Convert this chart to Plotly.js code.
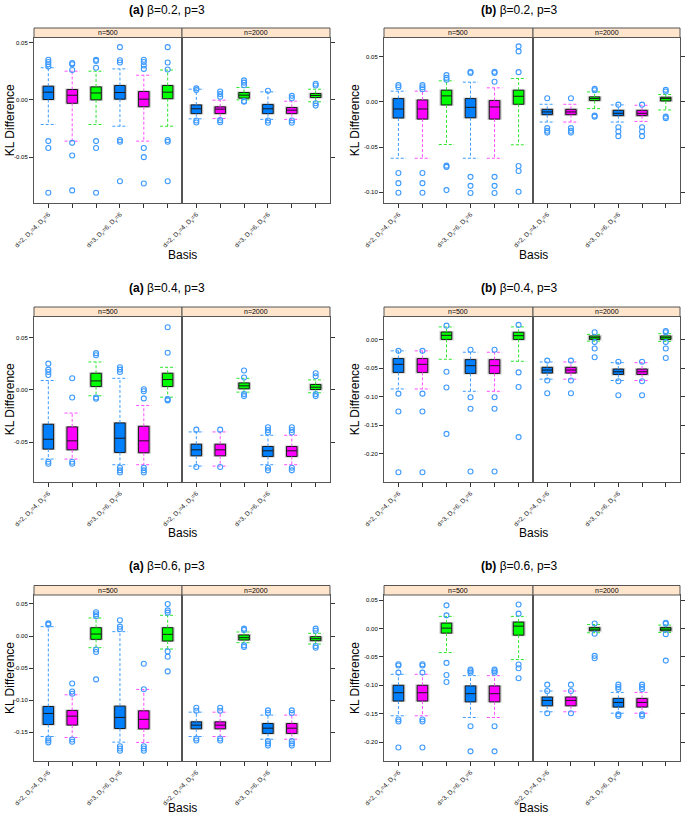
<!DOCTYPE html>
<html>
<head>
<meta charset="utf-8">
<script src="https://cdn.plot.ly/plotly-3.0.1.min.js"></script>
<style>
  body { margin: 0; background: #fff; }
  #chart { width: 685px; height: 816px; }
</style>
</head>
<body>
<div id="chart"></div>
<script>
// box order in every panel: n=500 positions 1..6, then n=2000 positions 1..6
var basisLabels = ['d=2, D<sub>x</sub>=4, D<sub>y</sub>=6', '', '', 'd=3, D<sub>x</sub>=6, D<sub>y</sub>=6', '', ''];
var strips = ['n=500', 'n=2000'];

// (a) beta=0.2
var q3_a02  = [0.0119, 0.009, 0.0113, 0.0125, 0.0073, 0.0125, -0.0044, -0.0061, 0.0064, -0.004, -0.0067, 0.0055];
var med_a02 = [0.0067, 0.004, 0.006, 0.0064, 0.0006, 0.0067, -0.0078, -0.0081, 0.0041, -0.0078, -0.009, 0.0038];
var q1_a02  = [0.0003, -0.003, 0, 0.0006, -0.006, 0.001, -0.012, -0.012, 0.0015, -0.012, -0.012, 0.002];
var hi_a02  = [0.028, 0.025, 0.025, 0.027, 0.0215, 0.026, 0.0093, -0.0003, 0.0108, 0.007, -0.0012, 0.0093];
var lo_a02  = [-0.0215, -0.036, -0.0215, -0.023, -0.036, -0.023, -0.0166, -0.0163, 0, -0.017, -0.017, -0.0017];
var out_a02 = [
  [0.035, 0.033, 0.031, 0.029, -0.036, -0.042, -0.081],
  [0.032, 0.031, 0.026, -0.0375, -0.0485, -0.079],
  [0.035, 0.034, 0.028, -0.036, -0.042, -0.081],
  [0.046, 0.0346, 0.0326, -0.035, -0.0366, -0.071],
  [0.035, 0.033, 0.030, 0.027, -0.042, -0.050, -0.073],
  [0.046, 0.0326, 0.0265, -0.035, -0.0366, -0.071],
  [0.010, 0.0085, -0.018, -0.0198],
  [0.0073, 0.005, 0.0026, -0.0177, -0.0195],
  [0.017, 0.015, 0.0128, -0.001, -0.0017],
  [0.008, -0.018, -0.020],
  [0.0035, 0.0015, -0.018, -0.020],
  [0.014, 0.0125, -0.003, -0.005]
];

// (b) beta=0.2
var q3_b02  = [0.0037, 0.0022, 0.013, 0.0037, 0.0015, 0.013, -0.0082, -0.0082, 0.0056, -0.0093, -0.0093, 0.0052];
var med_b02 = [-0.0078, -0.0078, 0.0067, -0.006, -0.0056, 0.0063, -0.0111, -0.0111, 0.0037, -0.0126, -0.0126, 0.0037];
var q1_b02  = [-0.0178, -0.019, -0.0033, -0.0175, -0.019, -0.0026, -0.0141, -0.0141, 0.0015, -0.0152, -0.0152, 0.0011];
var hi_b02  = [0.0119, 0.0119, 0.0234, 0.0219, 0.0156, 0.026, -0.0026, -0.0026, 0.0111, -0.0033, -0.0037, 0.0082];
var lo_b02  = [-0.0624, -0.0624, -0.0472, -0.0624, -0.0624, -0.0475, -0.0223, -0.0223, -0.0074, -0.0223, -0.0216, -0.0089];
var out_b02 = [
  [0.0186, 0.0163, -0.0787, -0.090, -0.1006],
  [0.0186, 0.0163, 0.014, -0.0787, -0.090, -0.1006],
  [0.0297, 0.0267, 0.0245, -0.0706, -0.072, -0.0977],
  [0.0334, 0.032, -0.083, -0.093, -0.101],
  [0.0334, 0.032, 0.0223, -0.083, -0.093, -0.101],
  [0.0616, 0.056, 0.033, -0.071, -0.0765, -0.0995],
  [0.004, -0.029, -0.032, -0.034],
  [0.004, -0.029, -0.032, -0.034],
  [0.0145, 0.013, -0.0152, -0.0163],
  [-0.003, -0.028, -0.0327, -0.0379],
  [-0.003, -0.028, -0.0327, -0.0379],
  [0.0134, 0.0115, -0.0163, -0.018]
];

// (a) beta=0.4
var q3_a04  = [-0.0329, -0.0354, 0.0158, -0.0316, -0.0348, 0.0158, -0.0519, -0.0519, 0.0066, -0.0541, -0.0541, 0.0051];
var med_a04 = [-0.0472, -0.0487, 0.0085, -0.0462, -0.0487, 0.0098, -0.0573, -0.0573, 0.0038, -0.0582, -0.0582, 0.0025];
var q1_a04  = [-0.0566, -0.0573, 0.0032, -0.0598, -0.0601, 0.0032, -0.063, -0.063, 0.001, -0.0636, -0.0636, 0.0003];
var hi_a04  = [0.0089, -0.0222, 0.0266, 0.011, -0.0149, 0.0215, -0.0402, -0.0402, 0.011, -0.0434, -0.0434, 0.0095];
var lo_a04  = [-0.0661, -0.0661, -0.0057, -0.0715, -0.0715, -0.007, -0.0728, -0.0728, -0.0022, -0.0715, -0.0715, -0.0028];
var out_a04 = [
  [0.025, 0.0193, 0.017, 0.0142, -0.0687, -0.0706],
  [0.011, -0.0073, -0.0687, -0.0706],
  [0.035, 0.033, -0.0073, -0.0085],
  [0.0215, 0.0193, 0.017, -0.0744, -0.0769, -0.079],
  [0.0006, -0.0013, -0.0082, -0.0744, -0.0769, -0.079],
  [0.0598, 0.0354, -0.0089, -0.0101],
  [-0.038, -0.0737],
  [-0.038, -0.0737],
  [0.0184, 0.0117, -0.0041, -0.006],
  [-0.0358, -0.0383, -0.0408, -0.0744, -0.0769],
  [-0.0358, -0.0383, -0.0408, -0.0744, -0.0769],
  [0.0158, 0.013, -0.0041, -0.006]
];

// (b) beta=0.4
var q3_b04  = [-0.0335, -0.0335, 0.0129, -0.0353, -0.0353, 0.0124, -0.0488, -0.0488, 0.0059, -0.0518, -0.0518, 0.0059];
var med_b04 = [-0.0435, -0.0435, 0.0071, -0.0459, -0.0459, 0.0065, -0.0535, -0.0535, 0.0029, -0.0565, -0.0565, 0.0029];
var q1_b04  = [-0.0576, -0.0576, 0, -0.0594, -0.0594, 0, -0.0588, -0.0588, 0, -0.0612, -0.0612, 0];
var hi_b04  = [-0.020, -0.020, 0.0218, -0.0224, -0.0224, 0.0218, -0.0394, -0.0394, 0.0088, -0.0406, -0.0406, 0.010];
var lo_b04  = [-0.0865, -0.0865, -0.0347, -0.0906, -0.0906, -0.0382, -0.0694, -0.0694, -0.003, -0.0718, -0.0718, -0.0035];
var out_b04 = [
  [-0.020, -0.0947, -0.126, -0.232],
  [-0.020, -0.0947, -0.126, -0.232],
  [0.024, -0.0565, -0.084, -0.165],
  [-0.018, -0.101, -0.121, -0.2306],
  [-0.018, -0.101, -0.121, -0.2306],
  [0.0253, -0.0576, -0.083, -0.1706],
  [-0.037, -0.0718, -0.094],
  [-0.037, -0.0718, -0.094],
  [0.0124, -0.0047, -0.0159, -0.0312],
  [-0.039, -0.073, -0.0976],
  [-0.039, -0.073, -0.0976],
  [0.0147, 0.0124, -0.0047, -0.0159, -0.0324]
];

// (a) beta=0.6
var q3_a06  = [-0.110, -0.1161, 0.013, -0.1094, -0.1167, 0.013, -0.1339, -0.1339, 0.0016, -0.1365, -0.1365, -0.001];
var med_a06 = [-0.1208, -0.125, 0.0031, -0.127, -0.130, 0.0026, -0.139, -0.139, -0.0026, -0.1438, -0.1438, -0.0042];
var q1_a06  = [-0.138, -0.139, -0.0052, -0.1443, -0.145, -0.0078, -0.1448, -0.1448, -0.0062, -0.152, -0.152, -0.0073];
var hi_a06  = [0.0146, -0.0917, 0.0281, 0.0068, -0.0833, 0.0323, -0.1188, -0.1188, 0.0063, -0.1234, -0.1234, 0.0042];
var lo_a06  = [-0.1568, -0.1583, -0.0182, -0.1656, -0.166, -0.0203, -0.1568, -0.1568, -0.0104, -0.161, -0.161, -0.0125];
var out_a06 = [
  [0.0198, 0.0177, -0.160, -0.163, -0.166],
  [-0.074, -0.0865, -0.090, -0.1615, -0.165],
  [0.037, 0.034, 0.031, -0.021, -0.025, -0.0677],
  [0.0245, 0.0146, 0.011, -0.172, -0.1755, -0.179],
  [-0.0432, -0.083, -0.172, -0.1755, -0.179],
  [0.05, 0.040, 0.0365, -0.024, -0.0323, -0.0552],
  [-0.112, -0.1167, -0.160, -0.163],
  [-0.112, -0.1167, -0.160, -0.163],
  [0.0115, 0.0094, -0.0146, -0.0172],
  [-0.116, -0.12, -0.164, -0.1677, -0.171],
  [-0.116, -0.12, -0.164, -0.1677, -0.171],
  [0.0115, 0.0083, -0.0156, -0.0182]
];

// (b) beta=0.6
var q3_b06  = [-0.100, -0.100, 0.0094, -0.101, -0.101, 0.0112, -0.1206, -0.1206, 0.0018, -0.123, -0.123, 0.0018];
var med_b06 = [-0.113, -0.113, 0.0006, -0.1147, -0.1147, 0.0041, -0.1265, -0.1265, -0.0012, -0.130, -0.130, -0.0012];
var q1_b06  = [-0.1276, -0.1276, -0.0082, -0.129, -0.129, -0.0118, -0.136, -0.136, -0.0041, -0.1382, -0.1382, -0.0041];
var hi_b06  = [-0.0806, -0.0806, 0.0212, -0.083, -0.083, 0.0212, -0.11, -0.11, 0.007, -0.1124, -0.1124, 0.0059];
var lo_b06  = [-0.1535, -0.1535, -0.0424, -0.1565, -0.1565, -0.0547, -0.1465, -0.1465, -0.0076, -0.149, -0.149, -0.007];
var out_b06 = [
  [-0.063, -0.065, -0.0776, -0.16, -0.1635, -0.2094],
  [-0.063, -0.065, -0.0776, -0.16, -0.1635, -0.2094],
  [0.0406, 0.023, -0.0606, -0.0818, -0.094],
  [-0.0724, -0.0753, -0.078, -0.172, -0.216],
  [-0.0724, -0.0753, -0.078, -0.172, -0.216],
  [0.042, 0.026, -0.0635, -0.070, -0.0876],
  [-0.0988, -0.11, -0.149],
  [-0.0988, -0.11, -0.149],
  [0.0088, -0.0094, -0.0482, -0.0524],
  [-0.0988, -0.103, -0.1065, -0.151, -0.154],
  [-0.0988, -0.103, -0.1065, -0.151, -0.154],
  [0.01, 0.0082, -0.01, -0.0565]
];

var W = 685, H = 816;
function px(x) { return x / W; }
function py(y) { return 1 - y / H; }

var boxFill = ['#0080ff', '#ff00ff', '#00ff00'];
var whiskCol = ['#3d9cff', '#ff4dff', '#2ee62e'];
var outCol = '#3d9aff';
var font = 'Liberation Sans, Arial, sans-serif';

// panels: [column, row]
var panels = [
  {title: '<b>(a)</b> β=0.2, p=3', col: 0, row: 0, yr: [-0.090, 0.0544], q1: q1_a02, med: med_a02, q3: q3_a02, lo: lo_a02, hi: hi_a02, out: out_a02},
  {title: '<b>(b)</b> β=0.2, p=3', col: 1, row: 0, yr: [-0.112, 0.0714], q1: q1_b02, med: med_b02, q3: q3_b02, lo: lo_b02, hi: hi_b02, out: out_b02},
  {title: '<b>(a)</b> β=0.4, p=3', col: 0, row: 1, yr: [-0.088, 0.070], q1: q1_a04, med: med_a04, q3: q3_a04, lo: lo_a04, hi: hi_a04, out: out_a04},
  {title: '<b>(b)</b> β=0.4, p=3', col: 1, row: 1, yr: [-0.249, 0.040], q1: q1_b04, med: med_b04, q3: q3_b04, lo: lo_b04, hi: hi_b04, out: out_b04},
  {title: '<b>(a)</b> β=0.6, p=3', col: 0, row: 2, yr: [-0.195, 0.064], q1: q1_a06, med: med_a06, q3: q3_a06, lo: lo_a06, hi: hi_a06, out: out_a06},
  {title: '<b>(b)</b> β=0.6, p=3', col: 1, row: 2, yr: [-0.233, 0.0588], q1: q1_b06, med: med_b06, q3: q3_b06, lo: lo_b06, hi: hi_b06, out: out_b06}
];

// pixel geometry of the grid
var colX = [[34, 182, 330], [384, 533, 680]];
var rowTop = [37.5, 316.5, 595];
var rowBot = [203, 482, 761];
var stripH = 9.5;
var titleY = [10, 288, 566];
var titleX = [167, 519];
var basisY = [255, 533, 808];
var ylabX = [10, 355];

var data = [];
var layout = {
  width: W, height: H,
  margin: {l: 0, r: 0, t: 0, b: 0},
  paper_bgcolor: '#fff', plot_bgcolor: '#fff',
  showlegend: false,
  boxmode: 'overlay',
  font: {family: font, color: '#000'},
  shapes: [], annotations: []
};

var capHalf = 0.32;

panels.forEach(function(p, pi) {
  var cx = colX[p.col];
  var top = rowTop[p.row], bot = rowBot[p.row];

  var tv = [];
  for (var t = Math.ceil(p.yr[0] / 0.05 - 1e-9) * 0.05; t <= p.yr[1] + 1e-9; t += 0.05) tv.push(+t.toFixed(2));
  var tt = tv.map(function(v) { return v.toFixed(2); });

  for (var s = 0; s < 2; s++) {
    var k = pi * 2 + s + 1;
    var xa = k === 1 ? 'x' : 'x' + k, ya = k === 1 ? 'y' : 'y' + k;
    var xk = k === 1 ? 'xaxis' : 'xaxis' + k, yk = k === 1 ? 'yaxis' : 'yaxis' + k;

    layout[xk] = {
      domain: [px(cx[s]), px(cx[s + 1])], anchor: ya,
      range: [0.4, 6.6], tickvals: [1, 2, 3, 4, 5, 6], ticktext: basisLabels,
      tickangle: -45, ticks: 'outside', ticklen: 4, tickcolor: '#333',
      showline: true, mirror: true, linecolor: '#555', linewidth: 1,
      showgrid: false, zeroline: false,
      tickfont: {size: 6.5, family: font, color: '#222'}
    };
    layout[yk] = {
      domain: [py(bot), py(top)], anchor: xa,
      range: p.yr, tickvals: tv, ticktext: tt,
      side: s === 0 ? 'left' : 'right', showticklabels: s === 0,
      ticks: 'outside', ticklen: 4, tickcolor: '#333',
      showline: true, mirror: true, linecolor: '#555', linewidth: 1,
      showgrid: false, zeroline: false,
      tickfont: {size: 6, family: font, color: '#000'}
    };

    for (var c = 0; c < 3; c++) {
      var idx = [s * 6 + c, s * 6 + c + 3];
      var xs = [c + 1, c + 4];
      var q1 = idx.map(function(i) { return p.q1[i]; });
      var q3 = idx.map(function(i) { return p.q3[i]; });
      var lo = idx.map(function(i) { return p.lo[i]; });
      var hi = idx.map(function(i) { return p.hi[i]; });
      var med = idx.map(function(i) { return p.med[i]; });

      // dashed whiskers and caps
      var wx = [], wy = [];
      for (var j = 0; j < 2; j++) {
        var x = xs[j];
        wx.push(x, x, null, x, x, null, x - capHalf, x + capHalf, null, x - capHalf, x + capHalf, null);
        wy.push(q3[j], hi[j], null, q1[j], lo[j], null, hi[j], hi[j], null, lo[j], lo[j], null);
      }
      data.push({
        type: 'scatter', mode: 'lines', x: wx, y: wy, xaxis: xa, yaxis: ya,
        line: {color: whiskCol[c], width: 1, dash: '3px,2px'}, hoverinfo: 'skip', connectgaps: false
      });

      // soft grey halo, then the box itself
      data.push({
        type: 'box', x: xs, q1: q1, q3: q3, lowerfence: q1, upperfence: q3, median: med,
        xaxis: xa, yaxis: ya, width: 0.5, whiskerwidth: 0,
        fillcolor: '#c8c8c8', line: {color: '#c8c8c8', width: 2},
        boxpoints: false, hoverinfo: 'skip'
      });
      data.push({
        type: 'box', x: xs, q1: q1, q3: q3, lowerfence: q1, upperfence: q3, median: med,
        xaxis: xa, yaxis: ya, width: 0.44, whiskerwidth: 0,
        fillcolor: boxFill[c], line: {color: '#1a1a1a', width: 1},
        boxpoints: false, hoverinfo: 'skip'
      });
    }

    // outliers
    var ox = [], oy = [];
    for (var b = 0; b < 6; b++) {
      p.out[s * 6 + b].forEach(function(v) { ox.push(b + 1); oy.push(v); });
    }
    data.push({
      type: 'scatter', mode: 'markers', x: ox, y: oy, xaxis: xa, yaxis: ya,
      marker: {symbol: 'circle-open', size: 5, color: outCol, line: {width: 1.1, color: outCol}},
      hoverinfo: 'skip'
    });

    // strip
    layout.shapes.push({
      type: 'rect', xref: 'paper', yref: 'paper',
      x0: px(cx[s]), x1: px(cx[s + 1]), y0: py(top), y1: py(top - stripH),
      fillcolor: '#ffe5cc', line: {color: '#555', width: 1}
    });
    layout.annotations.push({
      xref: 'paper', yref: 'paper', x: px((cx[s] + cx[s + 1]) / 2), y: py(top - stripH / 2),
      text: strips[s], showarrow: false, xanchor: 'center', yanchor: 'middle',
      font: {size: 7, family: font, color: '#000'}
    });
  }

  // titles and axis labels
  layout.annotations.push({
    xref: 'paper', yref: 'paper', x: px(titleX[p.col]), y: py(titleY[p.row]),
    text: p.title, showarrow: false, xanchor: 'center', yanchor: 'middle',
    font: {size: 12, family: font, color: '#000'}
  });
  layout.annotations.push({
    xref: 'paper', yref: 'paper', x: px(cx[1]), y: py(basisY[p.row]),
    text: 'Basis', showarrow: false, xanchor: 'center', yanchor: 'middle',
    font: {size: 12, family: font, color: '#000'}
  });
  layout.annotations.push({
    xref: 'paper', yref: 'paper', x: px(ylabX[p.col]), y: py((top + bot) / 2),
    text: 'KL Difference', showarrow: false, textangle: -90, xanchor: 'center', yanchor: 'middle',
    font: {size: 12, family: font, color: '#000'}
  });
});

Plotly.newPlot('chart', data, layout, {displayModeBar: false, staticPlot: true});
</script>
</body>
</html>
